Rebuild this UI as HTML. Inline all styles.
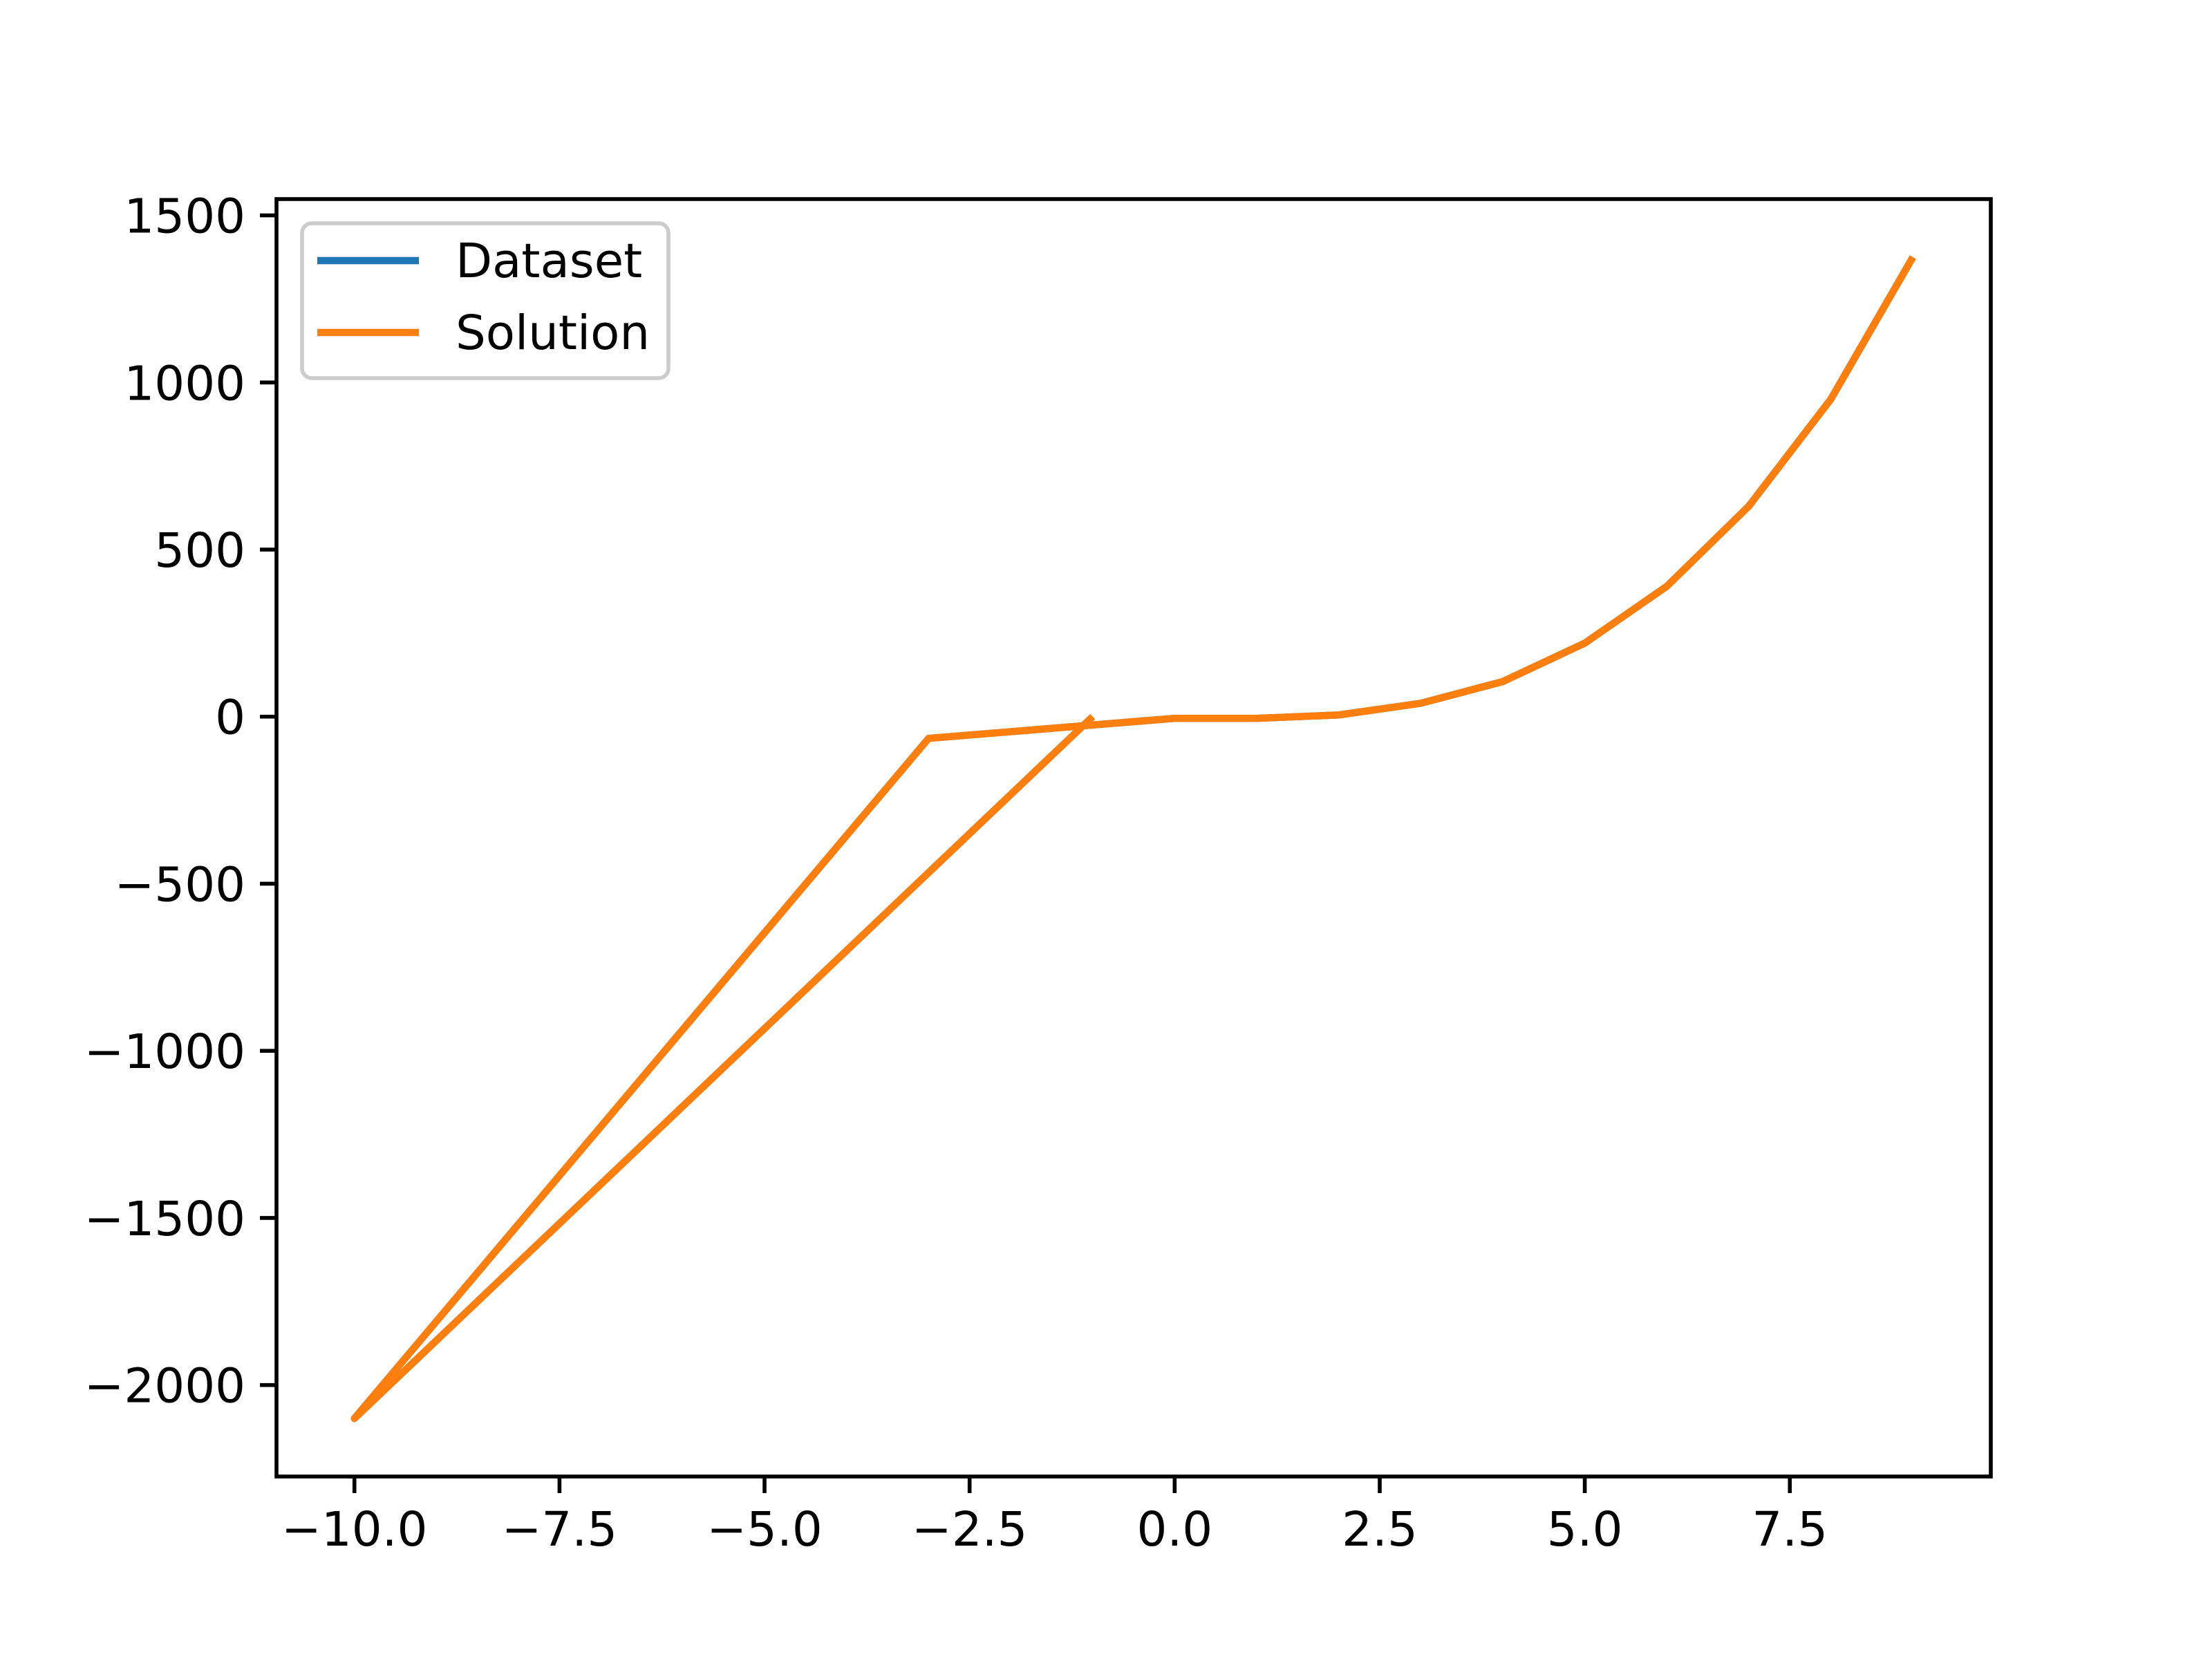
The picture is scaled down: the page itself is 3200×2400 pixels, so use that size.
<!DOCTYPE html>
<html><head><meta charset="utf-8"><style>
html,body{margin:0;padding:0;background:#fff;}
svg{display:block;font-family:"DejaVu Sans","Liberation Sans",sans-serif;}
</style></head><body>
<svg id="chart" width="3200" height="2400" viewBox="0 0 3200 2400" xmlns="http://www.w3.org/2000/svg">
<rect width="3200" height="2400" fill="#fff"/>
<g id="plot"></g>
</svg>
<script>
const xValues = [-1, -10, -3, 0, 1, 2, 3, 4, 5, 6, 7, 8, 9];
const datasetValues = [0, -2100, -65, -5, -5, 5, 40, 105, 220, 390, 630, 950, 1375];
const solutionValues = [0, -2100, -65, -5, -5, 5, 40, 105, 220, 390, 630, 950, 1375];
const xTicks = [-10, -7.5, -5, -2.5, 0, 2.5, 5, 7.5];
const xTickLabels = ["\u221210.0","\u22127.5","\u22125.0","\u22122.5","0.0","2.5","5.0","7.5"];
const yTicks = [-2000, -1500, -1000, -500, 0, 500, 1000, 1500];
const yTickLabels = ["\u22122000","\u22121500","\u22121000","\u2212500","0","500","1000","1500"];
const legendLabels = ["Dataset", "Solution"];

const NS = "http://www.w3.org/2000/svg";
const L = 400, R = 2880, T = 288, B = 2136;
const allY = datasetValues.concat(solutionValues);
const xmin0 = Math.min(...xValues), xmax0 = Math.max(...xValues);
const ymin0 = Math.min(...allY), ymax0 = Math.max(...allY);
const xmin = xmin0 - 0.05*(xmax0-xmin0), xmax = xmax0 + 0.05*(xmax0-xmin0);
const ymin = ymin0 - 0.05*(ymax0-ymin0), ymax = ymax0 + 0.05*(ymax0-ymin0);
const sx = v => L + (v - xmin) / (xmax - xmin) * (R - L);
const sy = v => B - (v - ymin) / (ymax - ymin) * (B - T);
const g = document.getElementById("plot");
function mk(tag, attrs) {
  const e = document.createElementNS(NS, tag);
  for (const k in attrs) e.setAttribute(k, attrs[k]);
  g.appendChild(e);
  return e;
}
function series(vals, color, name) {
  const p = mk("polyline", {points: xValues.map((x,i)=>sx(x)+","+sy(vals[i])).join(" "), fill:"none", stroke:color, "stroke-width":10.4, "stroke-linejoin":"round", "stroke-linecap":"butt"});
  
  
}
series(datasetValues, "#1f77b4", "dataset-line");
series(solutionValues, "#ff7f0e", "solution-line");

xTicks.forEach((t,i)=>{
  const x = sx(t);
  const tk = mk("line",{x1:x,x2:x,y1:B,y2:B+24,stroke:"#000","stroke-width":5.6});
  
  
  const tx = mk("text",{x:x,y:B+100,"font-size":69,"text-anchor":"middle",fill:"#000"});
  tx.textContent = xTickLabels[i];
  
  
});
yTicks.forEach((t,i)=>{
  const y = sy(t);
  const tk = mk("line",{x1:L-24,x2:L,y1:y,y2:y,stroke:"#000","stroke-width":5.6});
  
  
  const tx = mk("text",{x:L-45,y:y+25,"font-size":69,"text-anchor":"end",fill:"#000"});
  tx.textContent = yTickLabels[i];
  
  
});
const frame = mk("rect",{x:L,y:T,width:R-L,height:B-T,fill:"none",stroke:"#000","stroke-width":5.6});



const lg = mk("rect",{x:437,y:323,width:530,height:224,rx:14,fill:"#fff","fill-opacity":0.8,stroke:"#ccc","stroke-width":5.6});


const colors = ["#1f77b4","#ff7f0e"];
legendLabels.forEach((lab,i)=>{
  const y = 377 + i*104;
  const ln = mk("line",{x1:459,x2:606,y1:y,y2:y,stroke:colors[i],"stroke-width":10.4});
  
  
  const tx = mk("text",{x:659,y:y+24,"font-size":69,fill:"#000"});
  tx.textContent = lab;
  
  
});
</script>
</body></html>
